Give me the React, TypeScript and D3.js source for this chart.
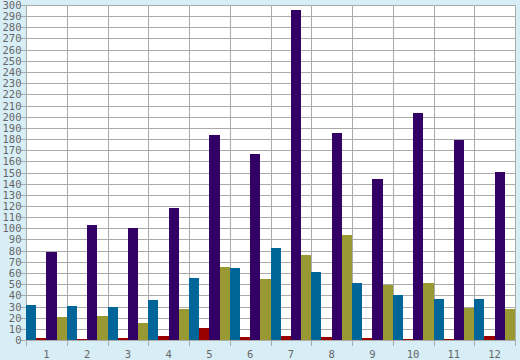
import React from "react";
import * as d3 from "d3";

const categories = ["1", "2", "3", "4", "5", "6", "7", "8", "9", "10", "11", "12"];
const seriesBlue = [31.3, 30.4, 29.6, 35.8, 55.5, 64.5, 82.4, 60.9, 51, 40.3, 36.7, 36.7];
const seriesRed = [2.1, 0.9, 2.1, 3.9, 10.7, 2.7, 3.6, 2.7, 1.8, 0.6, 0.5, 3.6];
const seriesPurple = [78.8, 103, 100.3, 118.2, 183.6, 166.6, 295.5, 185.4, 144.2, 203.3, 179.1, 150.4];
const seriesOlive = [20.6, 21.5, 15.2, 27.8, 65.4, 54.6, 76.1, 94, 49.3, 51, 28.7, 27.8];
const yTicks = d3.range(0, 301, 10);

const seriesList = [
  { key: "blue", values: seriesBlue, color: "#006699" },
  { key: "red", values: seriesRed, color: "#990000" },
  { key: "purple", values: seriesPurple, color: "#330066" },
  { key: "olive", values: seriesOlive, color: "#999933" },
];

const W = 520;
const H = 360;
const left = 26;
const right = 515;
const top = 5;
const bottom = 340;

export default function App() {
  const x = d3.scaleBand<string>().domain(categories).range([left, right]).padding(0);
  const inner = d3
    .scaleBand<string>()
    .domain(seriesList.map((s) => s.key))
    .range([0, x.bandwidth()])
    .padding(0);
  const y = d3.scaleLinear().domain([0, 300]).range([bottom, top]);
  const font = "'DejaVu Sans Mono', monospace";
  const textColor = "#666666";
  const gridColor = "#aaaaaa";

  return (
    <svg
      width={W}
      height={H}
      style={{ position: "absolute", left: 0, top: 0, display: "block" }}
    >
      <rect x={0} y={0} width={W} height={H} fill="#d8eef6" />
      <rect x={left} y={top} width={right - left} height={bottom - top} fill="#ffffff" />
      {yTicks.map((t) => {
        const yy = Math.round(y(t)) + 0.5;
        return (
          <g key={"y" + t}>
            <line x1={left - 5} x2={right} y1={yy} y2={yy} stroke={gridColor} strokeWidth={1} />
            <text
              x={21.5}
              y={yy}
              dy="0.35em"
              textAnchor="end"
              fontFamily={font}
              fontSize={10.5}
              fill={textColor}
            >
              {t}
            </text>
          </g>
        );
      })}
      {categories.map((c, i) => {
        const xx = Math.round(x(c)!) + 0.5;
        return (
          <g key={"x" + c}>
            {i > 0 && (
              <line x1={xx} x2={xx} y1={top} y2={bottom + 6} stroke={gridColor} strokeWidth={1} />
            )}
            <text
              x={x(c)! + x.bandwidth() / 2}
              y={358}
              textAnchor="middle"
              fontFamily={font}
              fontSize={10.5}
              fill={textColor}
            >
              {c}
            </text>
          </g>
        );
      })}
      <line
        x1={left + 0.5}
        x2={left + 0.5}
        y1={top}
        y2={bottom + 6}
        stroke={gridColor}
        strokeWidth={1}
      />
      <line
        x1={right + 0.5}
        x2={right + 0.5}
        y1={top}
        y2={bottom + 6}
        stroke={gridColor}
        strokeWidth={1}
      />
      {categories.map((c, i) => (
        <g key={"b" + c}>
          {seriesList.map((s) => {
            const x0 = x(c)! + inner(s.key)!;
            const x1 = x0 + inner.bandwidth();
            const rx0 = Math.round(x0);
            const rx1 = Math.round(x1);
            const yTop = Math.round(y(s.values[i]));
            return (
              <rect
                key={s.key}
                x={rx0}
                y={yTop}
                width={rx1 - rx0}
                height={Math.max(1, bottom - yTop)}
                fill={s.color}
              />
            );
          })}
        </g>
      ))}
    </svg>
  );
}
